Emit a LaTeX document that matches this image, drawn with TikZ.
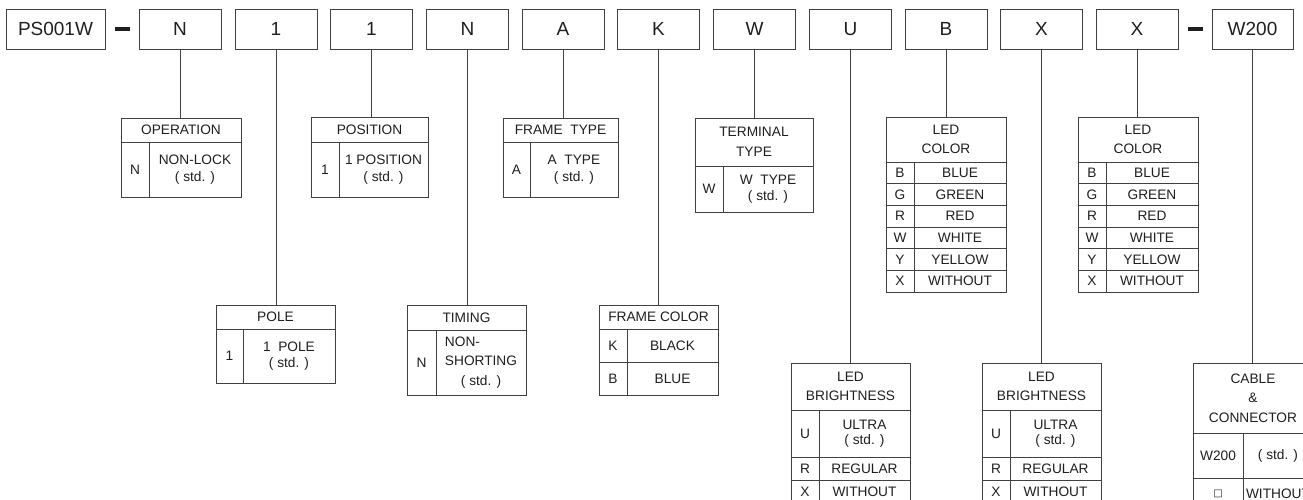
\documentclass[tikz,border=0pt]{standalone}
\usepackage{fontspec}
\setmainfont{Liberation Sans}
\newfontfamily\symfont{DejaVu Sans}

\definecolor{lineclr}{gray}{0.25}
\definecolor{textclr}{gray}{0.12}

\tikzset{
    codebox/.style={draw=lineclr, line width=0.8pt, text=textclr, minimum width=82pt, minimum height=40pt, inner sep=0pt, font=\fontsize{19}{21}\selectfont},
    cell/.style={draw=lineclr, line width=0.8pt, text=textclr, inner sep=0pt, outer sep=0pt, anchor=north west, align=center, font=\fontsize{13.7}{16.5}\selectfont},
    hcell/.style={cell, font=\fontsize{13.7}{19.5}\selectfont},
    link/.style={draw=lineclr, line width=0.8pt},
    dashbar/.style={draw=textclr, line width=4pt}
}

\begin{document}
\begin{tikzpicture}[x=1pt,y=-1pt]
                \useasboundingbox (0,0) rectangle (1303,499);
                \clip (0,0) rectangle (1303,499);
                \node[codebox, minimum width=99pt] (cPS) at (55.5,29) {PS001W};
                \foreach \n/\x/\t in {N1/180/N,P1/276/1,Q1/371.5/1,N2/467.5/N,A/563/A,K/658.5/K,W/754.5/W,U/850.5/U,B/946/B,X1/1041.5/X,X2/1137/X}{
                    \node[codebox] (c\n) at (\x,29) {\t};
                }
                \node[codebox, minimum width=81pt] (cW200) at (1252.5,29) {W200};
                \draw[dashbar] ([xshift=10pt]cPS.east) -- ([xshift=-9pt]cN1.west);
                \draw[dashbar] ([xshift=10pt]cX2.east) -- ([xshift=-9pt]cW200.west);
                \node[cell, minimum width=120pt, minimum height=24pt] (opH) at (121,118) {OPERATION};
                \node[cell, minimum width=28pt, minimum height=55pt] (opK) at (opH.south west) {N};
                \node[cell, minimum width=92pt, minimum height=55pt] (opV) at (opK.north east) {NON-LOCK\\( std. )};
                \node[cell, minimum width=117pt, minimum height=25pt] (psH) at (311,117) {POSITION};
                \node[cell, minimum width=28pt, minimum height=55pt] (psK) at (psH.south west) {1};
                \node[cell, minimum width=89pt, minimum height=55pt] (psV) at (psK.north east) {1 POSITION\\( std. )};
                \node[cell, minimum width=115pt, minimum height=24pt] (ftH) at (503,118) {FRAME~~TYPE};
                \node[cell, minimum width=27pt, minimum height=55pt] (ftK) at (ftH.south west) {A};
                \node[cell, minimum width=88pt, minimum height=55pt] (ftV) at (ftK.north east) {A~~TYPE\\( std. )};
                \node[hcell, minimum width=118pt, minimum height=48pt] (ttH) at (695,118) {TERMINAL\\TYPE};
                \node[cell, minimum width=28pt, minimum height=46pt] (ttK) at (ttH.south west) {W};
                \node[cell, minimum width=90pt, minimum height=46pt] (ttV) at (ttK.north east) {W~~TYPE\\( std. )};
                \foreach \lx/\nm in {886/lcA,1078/lcB}{
                    \node[hcell, minimum width=120pt, minimum height=45pt] (\nm H) at (\lx,117) {LED\\COLOR};
                    \foreach \k/\v [count=\i] in {B/BLUE,G/GREEN,R/RED,W/WHITE,Y/YELLOW,X/WITHOUT}{
                        \node[cell, minimum width=28pt, minimum height=21.67pt] (\nm K\i) at (\lx,{162+(\i-1)*21.67}) {\k};
                        \node[cell, minimum width=92pt, minimum height=21.67pt] (\nm V\i) at (\nm K\i.north east) {\v};
                    }
                }
                \node[cell, minimum width=119pt, minimum height=24pt] (plH) at (216,305) {POLE};
                \node[cell, minimum width=27pt, minimum height=54pt] (plK) at (plH.south west) {1};
                \node[cell, minimum width=92pt, minimum height=54pt] (plV) at (plK.north east) {1~~POLE\\( std. )};
                \node[cell, minimum width=119pt, minimum height=25pt] (tmH) at (407,305) {TIMING};
                \node[cell, minimum width=29pt, minimum height=65pt] (tmK) at (tmH.south west) {N};
                \node[cell, minimum width=90pt, minimum height=65pt, align=left, font=\fontsize{13.7}{19.5}\selectfont] (tmV) at (tmK.north east) {NON-\\SHORTING\\\hspace*{16pt}( std. )};
                \node[cell, minimum width=119pt, minimum height=24pt] (fcH) at (599,305) {FRAME COLOR};
                \foreach \k/\v [count=\i] in {K/BLACK,B/BLUE}{
                    \node[cell, minimum width=28pt, minimum height=33pt] (fcK\i) at (599,{329+(\i-1)*33}) {\k};
                    \node[cell, minimum width=91pt, minimum height=33pt] (fcV\i) at (fcK\i.north east) {\v};
                }
                \foreach \lx/\nm in {791/lbA,982/lbB}{
                    \node[hcell, minimum width=119pt, minimum height=47pt] (\nm H) at (\lx,363) {LED\\BRIGHTNESS};
                    \node[cell, minimum width=28pt, minimum height=47pt] (\nm K1) at (\nm H.south west) {U};
                    \node[cell, minimum width=91pt, minimum height=47pt, font=\fontsize{13.7}{15.5}\selectfont] (\nm V1) at (\nm K1.north east) {ULTRA\\( std. )};
                    \node[cell, minimum width=28pt, minimum height=23pt] (\nm K2) at (\nm K1.south west) {R};
                    \node[cell, minimum width=91pt, minimum height=23pt] (\nm V2) at (\nm K2.north east) {REGULAR};
                    \node[cell, minimum width=28pt, minimum height=23pt] (\nm K3) at (\nm K2.south west) {X};
                    \node[cell, minimum width=91pt, minimum height=23pt] (\nm V3) at (\nm K3.north east) {WITHOUT};
                }
                \node[hcell, minimum width=120pt, minimum height=70pt] (ccH) at (1193,363) {CABLE\\\&\\CONNECTOR};
                \node[cell, minimum width=50pt, minimum height=45pt] (ccK1) at (ccH.south west) {W200};
                \node[cell, minimum width=70pt, minimum height=45pt] (ccV1) at (ccK1.north east) {( std. )};
                \node[cell, minimum width=50pt, minimum height=32pt] (ccK2) at (ccK1.south west) {{\symfont\fontsize{10}{10}\selectfont □}};
                \node[cell, minimum width=70pt, minimum height=32pt] (ccV2) at (ccK2.north east) {WITHOUT};
                \foreach \a/\b in {N1/opH,P1/plH,Q1/psH,N2/tmH,A/ftH,K/fcH,W/ttH,U/lbAH,B/lcAH,X1/lbBH,X2/lcBH,W200/ccH}{
                    \draw[link] (c\a.south) -- (c\a.south |- \b.north);
                }
\end{tikzpicture}
\end{document}
